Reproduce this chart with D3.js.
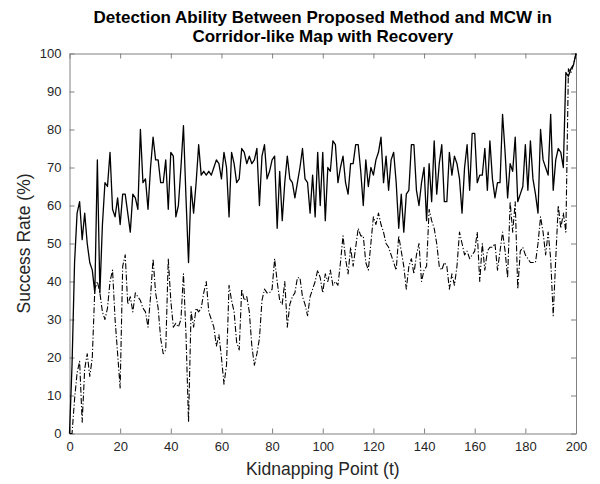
<!DOCTYPE html>
<html>
<head>
<meta charset="utf-8">
<script src="https://cdn.jsdelivr.net/npm/d3@7"></script>
<style>
  body { margin: 0; background: #fff; }
</style>
</head>
<body>
<div id="GRAPH_SVG"></div>
<script>
const HEIGHT = 484;
const WIDTH = 600;

const LEFT = 69.5;
const RIGHT = 576;
const TOP = 53.5;
const BOTTOM = 433.5;

const XTICKS = [0, 20, 40, 60, 80, 100, 120, 140, 160, 180, 200];
const YTICKS = [0, 10, 20, 30, 40, 50, 60, 70, 80, 90, 100];

const TITLE_LINES = ["Detection Ability Between Proposed Method and MCW in",
                     "Corridor-like Map with Recovery"];
const XLABEL = "Kidnapping Point (t)";
const YLABEL = "Success Rate (%)";

// success rate at kidnapping point t = 0..200
const proposed = [
  0, 18, 45, 58, 61, 51, 58, 50, 45, 43, 37, 72, 37, 55, 66, 65, 74, 59, 57, 62,
  55, 63, 63, 58, 53, 63, 62, 59, 80, 66, 67, 59, 70, 78, 72, 72, 66, 66, 72, 59,
  74, 73, 57, 60, 70, 81, 62, 45, 65, 58, 66, 76, 68, 69, 68, 69, 68, 70, 72, 71,
  67, 74, 70, 57, 74, 71, 66, 67, 75, 74, 71, 73, 71, 72, 75, 60, 73, 76, 67, 69,
  72, 73, 54, 69, 56, 66, 73, 67, 66, 62, 66, 70, 75, 67, 66, 58, 68, 57, 74, 60,
  74, 56, 70, 69, 77, 76, 66, 70, 73, 66, 63, 71, 71, 76, 76, 69, 60, 72, 65, 70,
  68, 72, 74, 78, 66, 73, 64, 72, 74, 66, 54, 63, 53, 63, 64, 76, 76, 64, 60, 66,
  70, 56, 71, 61, 77, 63, 71, 76, 61, 61, 74, 68, 73, 71, 67, 58, 70, 76, 64, 79,
  79, 66, 68, 68, 75, 64, 77, 67, 62, 66, 66, 84, 74, 62, 71, 69, 78, 61, 63, 65,
  76, 64, 77, 67, 63, 58, 80, 72, 70, 68, 84, 64, 72, 75, 74, 70, 95, 94, 96, 97,
  100
];
const mcw = [
  0, 0, 9, 16, 19, 3, 17, 21, 15, 20, 38, 40, 37, 32, 30, 33, 40, 43, 30, 21,
  12, 44, 47, 34, 36, 32, 37, 36, 35, 33, 32, 28, 36, 46, 37, 33, 25, 21, 22, 46,
  35, 28, 29, 28, 30, 42, 26, 3, 32, 28, 33, 32, 33, 37, 40, 32, 30, 28, 23, 26,
  20, 13, 18, 39, 35, 32, 24, 22, 38, 35, 36, 32, 23, 18, 21, 25, 35, 38, 37, 37,
  38, 46, 40, 35, 34, 40, 28, 34, 36, 37, 41, 41, 36, 34, 31, 36, 38, 40, 43, 41,
  37, 42, 40, 43, 39, 40, 39, 45, 52, 46, 42, 49, 44, 49, 54, 52, 52, 45, 43, 50,
  57, 55, 58, 55, 53, 50, 49, 47, 45, 43, 52, 48, 44, 38, 44, 46, 42, 47, 50, 40,
  43, 44, 59, 56, 54, 50, 44, 43, 45, 44, 38, 42, 39, 44, 53, 50, 47, 48, 46, 47,
  48, 53, 40, 50, 43, 48, 49, 49, 50, 43, 48, 53, 48, 41, 61, 53, 61, 38, 48, 49,
  47, 46, 45, 45, 45, 50, 57, 53, 47, 53, 46, 31, 46, 60, 54, 58, 53, 96, 95, 97,
  100
];

const series = [
  {values: proposed, dash: null, width: 1.3},
  {values: mcw, dash: "6,2,1.2,2", width: 1.1}
];

const svg = d3.select("#GRAPH_SVG")
              .append("svg")
              .attr("width", WIDTH)
              .attr("height", HEIGHT)
              .style("font-family", "'Liberation Sans', Arial, Helvetica, sans-serif");

svg.append("rect")
   .attr("width", WIDTH)
   .attr("height", HEIGHT)
   .attr("fill", "#fff");

const xScale = d3.scaleLinear().domain([0, 200]).range([LEFT, RIGHT]);
const yScale = d3.scaleLinear().domain([0, 100]).range([BOTTOM, TOP]);

// axes, matlab style: ticks inside on all four sides
function styleAxis(g) {
   g.select(".domain").attr("stroke", "#808080");
   g.selectAll(".tick line").attr("stroke", "#808080");
   g.selectAll(".tick text")
    .attr("fill", "#262626")
    .style("font-size", "13px")
    .style("font-family", "'Liberation Sans', Arial, sans-serif");
}

svg.append("g")
   .attr("transform", "translate(0," + BOTTOM + ")")
   .call(d3.axisBottom(xScale).tickValues(XTICKS).tickSizeInner(-5).tickSizeOuter(0).tickPadding(8))
   .call(styleAxis);

svg.append("g")
   .attr("transform", "translate(0," + TOP + ")")
   .call(d3.axisTop(xScale).tickValues(XTICKS).tickSizeInner(-5).tickSizeOuter(0).tickFormat(""))
   .call(styleAxis);

svg.append("g")
   .attr("transform", "translate(" + LEFT + ",0)")
   .call(d3.axisLeft(yScale).tickValues(YTICKS).tickSizeInner(-5).tickSizeOuter(0).tickPadding(8))
   .call(styleAxis);

svg.append("g")
   .attr("transform", "translate(" + RIGHT + ",0)")
   .call(d3.axisRight(yScale).tickValues(YTICKS).tickSizeInner(-5).tickSizeOuter(0).tickFormat(""))
   .call(styleAxis);

// lines
const line = d3.line()
   .x((d, i) => xScale(i))
   .y(d => yScale(d));

series.forEach(s => {
   svg.append("path")
      .datum(s.values)
      .attr("d", line)
      .attr("fill", "none")
      .attr("stroke", "#000")
      .attr("stroke-width", s.width)
      .attr("stroke-linejoin", "round")
      .attr("stroke-dasharray", s.dash);
});

// title
svg.append("text")
   .attr("x", (LEFT + RIGHT) / 2)
   .attr("y", 23)
   .attr("text-anchor", "middle")
   .attr("fill", "#000")
   .style("font-size", "17px")
   .style("font-weight", "bold")
   .selectAll("tspan")
   .data(TITLE_LINES)
   .join("tspan")
   .attr("x", (LEFT + RIGHT) / 2)
   .attr("dy", (d, i) => i == 0 ? 0 : 19)
   .text(d => d);

// axis labels
svg.append("text")
   .attr("x", (LEFT + RIGHT) / 2)
   .attr("y", 475)
   .attr("text-anchor", "middle")
   .attr("fill", "#262626")
   .style("font-size", "17.5px")
   .text(XLABEL);

svg.append("text")
   .attr("transform", "translate(30," + (TOP + BOTTOM) / 2 + ") rotate(-90)")
   .attr("text-anchor", "middle")
   .attr("fill", "#262626")
   .style("font-size", "17.5px")
   .text(YLABEL);
</script>
</body>
</html>
